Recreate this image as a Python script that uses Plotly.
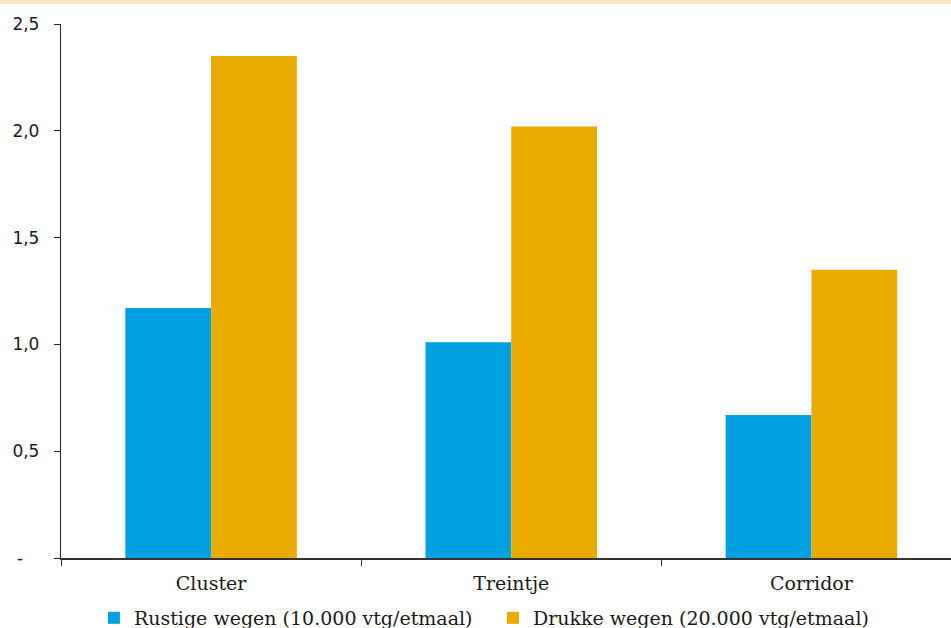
import plotly.graph_objects as go

# Data
categories = ["Cluster", "Treintje", "Corridor"]
rustige = [1.17, 1.01, 0.67]
drukke = [2.35, 2.02, 1.35]
series_names = ["Rustige wegen (10.000 vtg/etmaal)", "Drukke wegen (20.000 vtg/etmaal)"]
y_tickvals = [0, 0.5, 1.0, 1.5, 2.0, 2.5]
y_ticktext = ["-\u00a0\u00a0\u00a0", "0,5", "1,0", "1,5", "2,0", "2,5"]

BLUE = "#00A0E1"
ORANGE = "#E9AB00"
SERIF = "DejaVu Serif"
SANS = "DejaVu Sans"

fig = go.Figure()
fig.add_trace(go.Bar(x=categories, y=rustige, name=series_names[0],
                     marker=dict(color=BLUE, line=dict(width=0))))
fig.add_trace(go.Bar(x=categories, y=drukke, name=series_names[1],
                     marker=dict(color=ORANGE, line=dict(width=0))))

fig.update_layout(
    width=951, height=628,
    margin=dict(l=61, r=0, t=24, b=70, autoexpand=False),
    paper_bgcolor="white", plot_bgcolor="white",
    barmode="group", bargap=0.4286, bargroupgap=0,
    showlegend=True,
    legend=dict(orientation="h", x=0.037, xanchor="left",
                yref="container", y=0.016, yanchor="middle",
                font=dict(family=SERIF, size=19, color="#1a1a1a"),
                entrywidth=354, itemclick=False, bgcolor="rgba(0,0,0,0)",
                tracegroupgap=0),
    xaxis=dict(type="category", range=[-0.5, 2.465], showgrid=False,
               showline=True, linecolor="#333333", linewidth=2,
               ticks="outside", tickson="boundaries", ticklen=6, tickcolor="#333333",
               tickwidth=1,
               tickfont=dict(family=SERIF, size=19, color="#1a1a1a"),
               ticklabelstandoff=7),
    yaxis=dict(range=[0, 2.5], showgrid=False, zeroline=False,
               showline=True, linecolor="#222222", linewidth=1.3,
               ticks="outside", ticklen=6, tickcolor="#222222", tickwidth=1,
               tickvals=y_tickvals, ticktext=y_ticktext,
               tickfont=dict(family=SANS, size=17, color="#1a1a1a"),
               ticklabelstandoff=11),
    shapes=[dict(type="rect", xref="paper", yref="paper", x0=-0.2, x1=1.1,
                 y0=1.0375, y1=1.2, fillcolor="#FBE6C1", line=dict(width=0),
                 layer="below")],
)

fig.write_html("out.html")
